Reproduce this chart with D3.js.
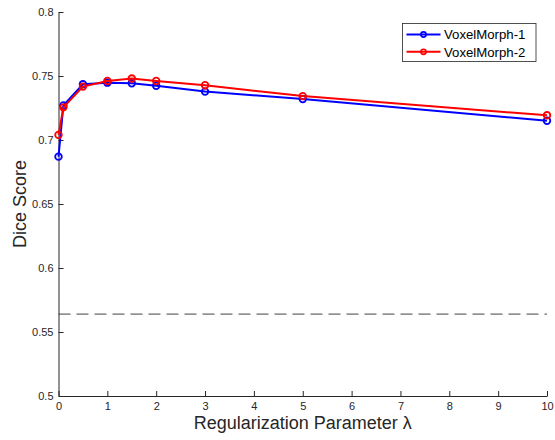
<!DOCTYPE html>
<html><head><meta charset="utf-8">
<script src="https://cdn.jsdelivr.net/npm/d3@7"></script>
<style>body{margin:0;background:#fff}svg{display:block;font-family:"Liberation Sans",Arial,sans-serif}</style>
</head><body><svg id="c" width="555" height="440"></svg>
<script>
const lambdas = [0, 0.1, 0.5, 1, 1.5, 2, 3, 5, 10];
const vm1 = [0.687, 0.727, 0.7435, 0.7448, 0.7443, 0.7424, 0.7378, 0.732, 0.7150];
const vm2 = [0.704, 0.7255, 0.7417, 0.7461, 0.7480, 0.7461, 0.7428, 0.7343, 0.7193];
const baseline = 0.564;
const seriesNames = ["VoxelMorph-1", "VoxelMorph-2"];
const xTicks = [0,1,2,3,4,5,6,7,8,9,10];
const yTicks = [0.5,0.55,0.6,0.65,0.7,0.75,0.8];

const svg = d3.select("#c");
const L = 58.5, R = 547, T = 12, B = 396;
const x = d3.scaleLinear().domain([0,10]).range([L,R]);
const y = d3.scaleLinear().domain([0.5,0.8]).range([B,T]);
const axCol = "#262626";

// axes
const xa = svg.append("g").attr("transform",`translate(0,${B})`)
  .call(d3.axisBottom(x).tickValues(xTicks).tickFormat(d3.format("d")).tickSizeInner(-5).tickSizeOuter(0).tickPadding(8));
const ya = svg.append("g").attr("transform",`translate(${L},0)`)
  .call(d3.axisLeft(y).tickValues(yTicks).tickFormat(d=>String(d)).tickSizeInner(-5).tickSizeOuter(0).tickPadding(5));
[xa,ya].forEach(g=>{
  g.select(".domain").attr("stroke",axCol).attr("stroke-width",1);
  g.selectAll(".tick line").attr("stroke",axCol);
  g.selectAll(".tick text").attr("fill",axCol).style("font-size","11px").style("font-family","'Liberation Sans',Arial,sans-serif");
});
xa.selectAll(".tick text").attr("dy","0.5em");

// baseline dashed
svg.append("line").attr("x1",x(0)).attr("x2",x(10)).attr("y1",y(baseline)).attr("y2",y(baseline))
  .attr("stroke","#404040").attr("stroke-width",1).attr("stroke-dasharray","12,6");

const colors = ["#0000ff","#ff0000"];
const data = [vm1, vm2];
const line = d3.line().x((d,i)=>x(lambdas[i])).y(d=>y(d));
data.forEach((s,k)=>{
  svg.append("path").datum(s).attr("d",line).attr("fill","none").attr("stroke",colors[k]).attr("stroke-width",2);
  svg.selectAll(null).data(s).enter().append("circle")
    .attr("cx",(d,i)=>x(lambdas[i])).attr("cy",d=>y(d)).attr("r",3.3)
    .attr("fill","none").attr("stroke",colors[k]).attr("stroke-width",1.8);
});

// labels
svg.append("text").attr("x",(L+R)/2).attr("y",428.5).attr("text-anchor","middle")
  .attr("fill",axCol).style("font-size","18px").text("Regularization Parameter λ");
svg.append("text").attr("transform",`translate(25.5,${(T+B)/2}) rotate(-90)`).attr("text-anchor","middle")
  .attr("fill",axCol).style("font-size","18px").text("Dice Score");

// legend
const lg = svg.append("g");
lg.append("rect").attr("x",402.5).attr("y",23.5).attr("width",133.5).attr("height",38)
  .attr("fill","#fff").attr("stroke",axCol).attr("stroke-width",0.8);
seriesNames.forEach((n,k)=>{
  const yy = 34.5 + k*17.3;
  lg.append("line").attr("x1",406.5).attr("x2",440.5).attr("y1",yy).attr("y2",yy).attr("stroke",colors[k]).attr("stroke-width",2);
  lg.append("circle").attr("cx",423.5).attr("cy",yy).attr("r",2.6).attr("fill","none").attr("stroke",colors[k]).attr("stroke-width",1.6);
  lg.append("text").attr("x",444).attr("y",yy).attr("dy","0.36em").attr("fill","#000").style("font-size","13.2px").text(n);
});
</script></body></html>
